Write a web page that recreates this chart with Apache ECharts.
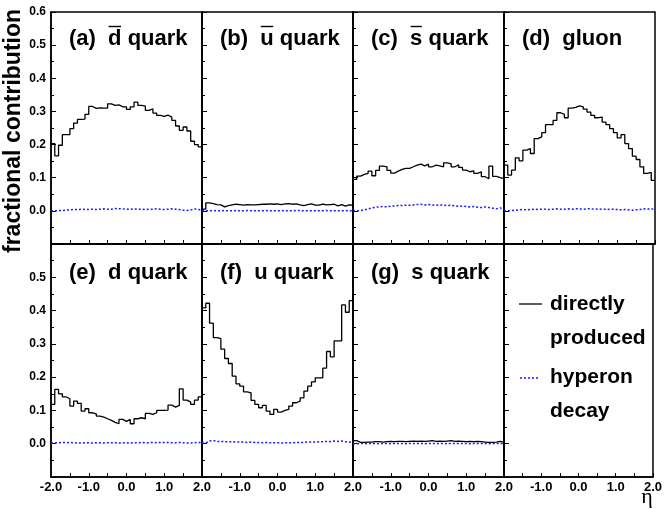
<!DOCTYPE html>
<html>
<head>
<meta charset="utf-8">
<script src="https://cdn.jsdelivr.net/npm/echarts@6/dist/echarts.min.js"></script>
<style>
  html, body { margin: 0; padding: 0; background: #fff; }
  #chart { width: 665px; height: 509px; }
</style>
</head>
<body>
<div id="chart"></div>
<script>
// eta binning: 40 bins of width 0.1 between -2 and 2
const ETA_MIN = -2.0;
const ETA_MAX = 2.0;
const BIN_WIDTH = 0.1;

// panel titles: [prefix, flavour (overlined for antiquarks), suffix]
const panelTitles = [
  ['(a)  ', 'd', ' quark'],
  ['(b)  ', 'u', ' quark'],
  ['(c)  ', 's', ' quark'],
  ['(d)  ', 'gluon', ''],
  ['(e)  ', 'd', ' quark'],
  ['(f)  ', 'u', ' quark'],
  ['(g)  ', 's', ' quark']
];
const overlined = [true, true, true, false, false, false, false];

const etaTickLabels = ['-2.0', '-1.0', '0.0', '1.0', '2.0'];
const legendNames = ['directly\nproduced', 'hyperon\ndecay'];
const yTitle = 'fractional contribution';
const xTitle = 'η';

// directly produced fraction per eta bin
const dbarDirect = [0.203,0.166,0.198,0.230,0.230,0.248,0.265,0.276,0.277,0.291,0.315,0.309,0.311,0.310,0.310,0.323,0.318,0.320,0.314,0.314,0.306,0.314,0.328,0.318,0.316,0.303,0.308,0.295,0.288,0.285,0.289,0.283,0.273,0.256,0.243,0.253,0.241,0.210,0.200,0.193];
const ubarDirect = [0.005,0.024,0.022,0.019,0.018,0.012,0.016,0.018,0.020,0.019,0.017,0.019,0.018,0.018,0.019,0.020,0.020,0.021,0.020,0.021,0.019,0.021,0.022,0.020,0.021,0.018,0.016,0.019,0.021,0.017,0.017,0.020,0.018,0.019,0.020,0.015,0.019,0.014,0.018,0.017];
const sbarDirect = [0.095,0.105,0.110,0.113,0.120,0.106,0.122,0.135,0.133,0.122,0.114,0.120,0.125,0.128,0.128,0.133,0.138,0.141,0.136,0.141,0.133,0.138,0.136,0.133,0.145,0.142,0.133,0.139,0.131,0.123,0.118,0.121,0.113,0.118,0.103,0.097,0.135,0.104,0.100,0.097];
const gluonDirect = [0.138,0.108,0.123,0.160,0.151,0.183,0.188,0.173,0.218,0.223,0.236,0.260,0.260,0.273,0.296,0.291,0.281,0.310,0.312,0.317,0.314,0.307,0.298,0.288,0.281,0.283,0.268,0.260,0.248,0.236,0.220,0.230,0.203,0.188,0.165,0.155,0.133,0.113,0.116,0.092];
const dDirect = [0.118,0.163,0.150,0.141,0.135,0.113,0.128,0.121,0.098,0.105,0.093,0.090,0.083,0.080,0.075,0.070,0.064,0.060,0.073,0.067,0.073,0.060,0.075,0.078,0.075,0.091,0.088,0.093,0.100,0.100,0.101,0.116,0.110,0.115,0.165,0.131,0.125,0.118,0.131,0.141];
const uDirect = [0.408,0.422,0.362,0.319,0.316,0.284,0.256,0.241,0.203,0.180,0.173,0.156,0.153,0.130,0.118,0.108,0.115,0.098,0.088,0.103,0.095,0.100,0.103,0.113,0.123,0.128,0.138,0.158,0.173,0.186,0.198,0.198,0.227,0.277,0.261,0.309,0.309,0.417,0.395,0.430];
const sDirect = [0.009,0.004,0.004,0.005,0.005,0.006,0.006,0.005,0.006,0.007,0.006,0.007,0.007,0.006,0.007,0.008,0.007,0.008,0.007,0.008,0.009,0.007,0.008,0.007,0.008,0.009,0.007,0.008,0.007,0.006,0.007,0.006,0.007,0.006,0.005,0.004,0.004,0.005,0.007,0.004];

// fraction coming from hyperon decays per eta bin
const dbarHyperon = [0.000,0.001,0.001,0.002,0.003,0.004,0.004,0.005,0.004,0.004,0.005,0.004,0.005,0.006,0.005,0.005,0.007,0.006,0.006,0.005,0.005,0.006,0.005,0.005,0.004,0.005,0.005,0.006,0.005,0.004,0.005,0.006,0.005,0.004,0.002,0.001,0.003,0.006,0.004,0.003];
const ubarHyperon = [0.000,0.000,0.001,0.000,0.000,0.001,0.000,0.000,0.001,0.000,0.000,0.001,0.000,0.000,0.000,0.000,0.001,0.000,0.000,0.000,0.001,0.000,0.000,0.000,0.001,0.001,0.000,0.000,0.000,0.000,0.000,0.000,0.001,0.000,0.000,0.000,0.000,0.001,0.000,0.000];
const sbarHyperon = [0.000,0.001,0.003,0.006,0.009,0.011,0.012,0.013,0.012,0.014,0.015,0.016,0.016,0.017,0.017,0.018,0.019,0.020,0.018,0.019,0.018,0.017,0.018,0.017,0.016,0.017,0.015,0.014,0.014,0.013,0.012,0.013,0.011,0.010,0.012,0.010,0.008,0.006,0.009,0.005];
const gluonHyperon = [0.000,0.001,0.002,0.003,0.004,0.003,0.004,0.005,0.004,0.005,0.005,0.004,0.005,0.006,0.005,0.005,0.006,0.005,0.006,0.006,0.005,0.006,0.006,0.005,0.006,0.005,0.005,0.004,0.005,0.004,0.003,0.004,0.003,0.002,0.003,0.004,0.006,0.005,0.007,0.002];
const dHyperon = [0.002,0.003,0.004,0.003,0.004,0.003,0.002,0.002,0.003,0.003,0.002,0.003,0.003,0.002,0.003,0.003,0.003,0.002,0.003,0.003,0.002,0.003,0.003,0.004,0.003,0.003,0.004,0.003,0.004,0.004,0.004,0.003,0.003,0.004,0.003,0.002,0.002,0.003,0.004,0.003];
const uHyperon = [0.002,0.008,0.010,0.007,0.007,0.006,0.006,0.006,0.005,0.005,0.005,0.004,0.005,0.004,0.004,0.003,0.004,0.003,0.003,0.003,0.002,0.003,0.003,0.003,0.004,0.004,0.004,0.005,0.005,0.005,0.006,0.006,0.007,0.006,0.008,0.007,0.008,0.006,0.005,0.004];
const sHyperon = [0.000,0.001,0.000,0.001,0.001,0.001,0.000,0.001,0.001,0.000,0.001,0.001,0.001,0.000,0.001,0.001,0.001,0.001,0.000,0.001,0.001,0.001,0.001,0.001,0.000,0.001,0.001,0.001,0.001,0.001,0.000,0.001,0.001,0.001,0.001,0.000,0.001,0.001,0.001,0.000];

const directSets = [dbarDirect, ubarDirect, sbarDirect, gluonDirect, dDirect, uDirect, sDirect];
const hyperonSets = [dbarHyperon, ubarHyperon, sbarHyperon, gluonHyperon, dHyperon, uHyperon, sHyperon];

// ---------------------------------------------------------------
const FONT = '"Liberation Sans", Arial, Helvetica, sans-serif';
const colLeft = [51, 202, 353, 504];
const panelW = 151;
const rowTop = [12, 244];
const rowH = [232, 233];

// histogram as step line: left bin edge points plus closing point at ETA_MAX
function histPoints(values) {
  const pts = values.map((v, i) => [+(ETA_MIN + i * BIN_WIDTH).toFixed(2), v]);
  pts.push([ETA_MAX, values[values.length - 1]]);
  return pts;
}

const grids = [], xAxes = [], yAxes = [], series = [], graphics = [];

for (let p = 0; p < 8; p++) {
  const row = p < 4 ? 0 : 1;
  const col = p % 4;
  grids.push({
    left: colLeft[col], top: rowTop[row], width: panelW, height: rowH[row],
    show: true, borderColor: '#000', borderWidth: 1.5, backgroundColor: 'transparent'
  });
  xAxes.push({
    gridIndex: p, type: 'value', min: ETA_MIN, max: ETA_MAX, interval: 1,
    axisLine: { show: true, onZero: false, lineStyle: { color: '#000', width: 1.5 } },
    axisTick: { show: true, inside: true, length: 4, lineStyle: { color: '#000', width: 1 } },
    minorTick: { show: true, splitNumber: 2, length: 4, lineStyle: { color: '#000', width: 1 } },
    splitLine: { show: false },
    axisLabel: {
      show: row === 1, margin: 4, color: '#000', fontFamily: FONT, fontWeight: 'bold', fontSize: 13,
      formatter: v => {
        const s = etaTickLabels.find(t => Math.abs(parseFloat(t) - v) < 1e-6) || '';
        if (col > 0 && s === etaTickLabels[0]) return '';
        return s;
      }
    }
  });
  yAxes.push({
    gridIndex: p, type: 'value', min: -0.1, max: 0.6, interval: 0.1,
    axisLine: { show: true, onZero: false, lineStyle: { color: '#000', width: 1.5 } },
    axisTick: { show: true, inside: true, length: 5, lineStyle: { color: '#000', width: 1 } },
    minorTick: { show: true, splitNumber: 2, length: 3, lineStyle: { color: '#000', width: 1 } },
    splitLine: { show: false },
    axisLabel: {
      show: col === 0, margin: 5, color: '#000', fontFamily: FONT, fontWeight: 'bold', fontSize: 12,
      formatter: v => {
        const s = v.toFixed(1);
        if (s === '-0.1') return '';
        if (row === 1 && s === '0.6') return '';
        return s;
      }
    },
    name: (p === 0) ? yTitle : '',
    nameLocation: 'middle', nameGap: 22, nameRotate: 90,
    nameTextStyle: { color: '#000', fontFamily: FONT, fontWeight: 'bold', fontSize: 23, padding: [0, 0, 0, -6] }
  });
  if (p < 7) {
    series.push({
      type: 'line', name: legendNames[0], xAxisIndex: p, yAxisIndex: p,
      step: 'end', symbol: 'none', silent: true,
      data: histPoints(directSets[p]),
      lineStyle: { color: '#000', width: 1.3 }
    });
    series.push({
      type: 'line', name: legendNames[1], xAxisIndex: p, yAxisIndex: p,
      step: 'end', symbol: 'none', silent: true,
      data: histPoints(hyperonSets[p]),
      lineStyle: { color: '#1a1aff', width: 1.5, type: [2, 2] }
    });
  }
}

// panel labels with an overline over the antiquark symbol
const measureCtx = document.createElement('canvas').getContext('2d');
const titleFont = 'bold 22px ' + FONT;
measureCtx.font = titleFont;
panelTitles.forEach((parts, p) => {
  const row = p < 4 ? 0 : 1;
  const col = p % 4;
  const x0 = colLeft[col] + 18;
  const yMid = row === 0 ? 39 : 273;
  graphics.push({
    type: 'text', x: x0, y: yMid, silent: true,
    style: { text: parts.join(''), font: titleFont, fill: '#000', align: 'left', verticalAlign: 'middle' }
  });
  if (overlined[p]) {
    const xs = x0 + measureCtx.measureText(parts[0]).width;
    const w = measureCtx.measureText(parts[1]).width;
    graphics.push({
      type: 'line', silent: true,
      shape: { x1: xs + 0.5, y1: yMid - 12.5, x2: xs + w - 0.5, y2: yMid - 12.5 },
      style: { stroke: '#000', lineWidth: 1.4 }
    });
  }
});

// key in the empty eighth panel
const legendFont = 'bold 21px ' + FONT;
graphics.push(
  { type: 'line', silent: true, shape: { x1: 519, y1: 304, x2: 542, y2: 304 }, style: { stroke: '#000', lineWidth: 1.3 } },
  { type: 'text', silent: true, x: 550, y: 304, style: { text: legendNames[0].split('\n')[0], font: legendFont, fill: '#000', verticalAlign: 'middle' } },
  { type: 'text', silent: true, x: 550, y: 338, style: { text: legendNames[0].split('\n')[1], font: legendFont, fill: '#000', verticalAlign: 'middle' } },
  { type: 'line', silent: true, shape: { x1: 520, y1: 378, x2: 540, y2: 378 }, style: { stroke: '#1a1aff', lineWidth: 1.5, lineDash: [2, 2] } },
  { type: 'text', silent: true, x: 550, y: 377, style: { text: legendNames[1].split('\n')[0], font: legendFont, fill: '#000', verticalAlign: 'middle' } },
  { type: 'text', silent: true, x: 550, y: 411, style: { text: legendNames[1].split('\n')[1], font: legendFont, fill: '#000', verticalAlign: 'middle' } },
  { type: 'text', silent: true, x: 647, y: 497, style: { text: xTitle, font: '22px "Liberation Serif", "DejaVu Serif", serif', fill: '#000', align: 'center', verticalAlign: 'middle' } }
);

const chart = echarts.init(document.getElementById('chart'), null, { renderer: 'canvas' });
chart.setOption({
  backgroundColor: '#fff',
  animation: false,
  grid: grids,
  xAxis: xAxes,
  yAxis: yAxes,
  series: series,
  graphic: graphics
});
</script>
</body>
</html>
